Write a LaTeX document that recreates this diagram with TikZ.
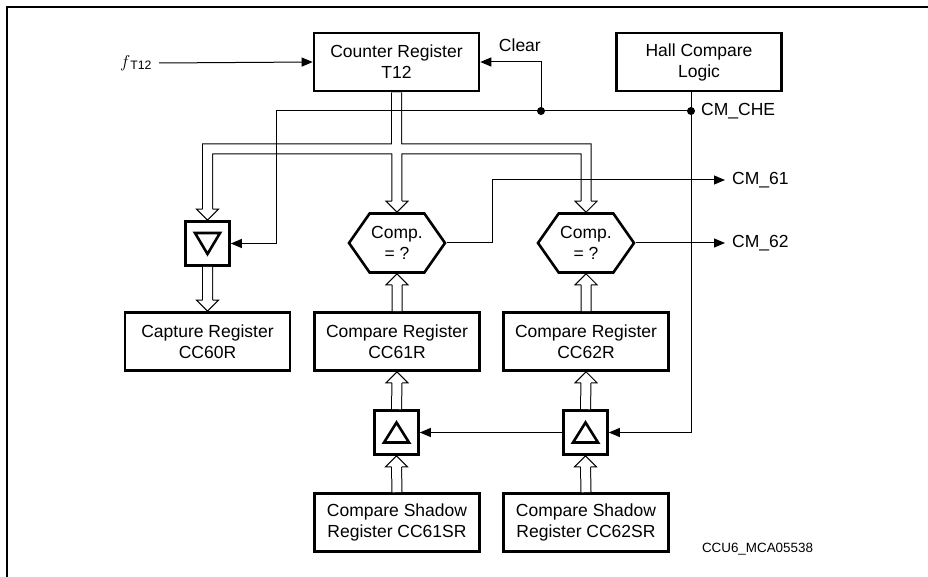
\documentclass[tikz,border=0pt]{standalone}
\usepackage{fontspec}
\setmainfont{Liberation Sans}
\usetikzlibrary{arrows.meta,shapes.symbols}

\begin{document}
\begin{tikzpicture}[
    x=1pt, y=-1pt,
    every node/.style={font=\fontsize{17.5}{21}\selectfont, align=center, inner sep=0pt},
    regbox/.style={draw, line width=2.6pt, minimum width=165pt, minimum height=58pt},
    trigbox/.style={draw, line width=2.6pt, minimum size=44pt},
    trig down/.style={trigbox, path picture={\draw[line width=2.6pt] ([shift={(-12.5,-10.5)}]path picture bounding box.center) -- ++(25,0) -- ++(-12.5,21) -- cycle;}},
    trig up/.style={trigbox, path picture={\draw[line width=2.6pt] ([shift={(-12.5,10)}]path picture bounding box.center) -- ++(25,0) -- ++(-12.5,-20) -- cycle;}},
    cmphex/.style={draw, line width=2.6pt, shape=signal, signal to=east and west, signal pointer angle=110, minimum width=96pt, minimum height=59pt},
    sig/.style={line width=1pt, -{Triangle[length=11pt,width=9pt]}},
    wire/.style={line width=1pt},
    dot/.style={circle, fill, minimum size=8pt},
    lbl/.style={anchor=west, inner xsep=7pt},
    bushead/.pic={
        \fill[white] (-11,-11) -- (0,0) -- (11,-11) -- cycle;
        \draw[line width=1pt] (-5,-11) -- (-11,-11) -- (0,0) -- (11,-11) -- (5,-11);
    }
]
\useasboundingbox (0,0) rectangle (928,577);
\draw[line width=2pt] (7,577) -- (7,7) -- (928,7);

\node[regbox] (t12) at (396.5,62) {Counter Register\\T12};
\node[regbox] (hall) at (699,62) {Hall Compare\\Logic};
\node[trig down] (cap) at (207.5,243.5) {};
\node[cmphex] (cmp1) at (397,243) {Comp.\\= ?};
\node[cmphex] (cmp2) at (586,243) {Comp.\\= ?};
\node[regbox] (cc60) at (207.5,341.5) {Capture Register\\CC60R};
\node[regbox] (cc61) at (397,341.5) {Compare Register\\CC61R};
\node[regbox] (cc62) at (586,341.5) {Compare Register\\CC62R};
\node[trig up] (trg1) at (396.5,432.5) {};
\node[trig up] (trg2) at (585.5,432.5) {};
\node[regbox] (sh61) at (397,522.5) {Compare Shadow\\Register CC61SR};
\node[regbox] (sh62) at (586,522.5) {Compare Shadow\\Register CC62SR};

\node (ft) at (136,63) {$f$\textsubscript{T12}};
\node[anchor=south east] (clr) at (541,52) {Clear};
\node[anchor=west] (che) at (701,111) {CM\_CHE};
\node[lbl] (cm61) at (725,180) {CM\_61};
\node[lbl] (cm62) at (725,243) {CM\_62};
\node[font=\fontsize{13.4}{16}\selectfont] (fig) at (757.5,549) {CCU6\_MCA05538};

\coordinate (busl) at (208,149);
\coordinate (busr) at (586,149);
\foreach \w/\c in {11/black, 9/white}
    \draw[line width=\w pt, \c]
        ([yshift=10pt]cap.north) -- (cap.north |- busl) -- (busr) -- ([yshift=10pt]cmp2.north)
        (t12.south) -- ([yshift=10pt]cmp1.north)
        (cap.south) -- ([yshift=10pt]cc60.north)
        (cc61.north) -- ([yshift=-10pt]cmp1.south)
        (cc62.north) -- ([yshift=-10pt]cmp2.south)
        (trg1.north) -- ([yshift=-10pt]cc61.south)
        (trg2.north) -- ([yshift=-10pt]cc62.south)
        (sh61.north) -- ([yshift=-10pt]trg1.south)
        (sh62.north) -- ([yshift=-10pt]trg2.south);
\foreach \n in {cap.north, cmp1.north, cmp2.north, cc60.north}
    \pic at (\n) {bushead};
\foreach \n in {cmp1.south, cmp2.south, cc61.south, cc62.south, trg1.south, trg2.south}
    \pic[rotate=180] at (\n) {bushead};

\node[dot] (dclr) at (541,111) {};
\node[dot] (dche) at (691,111) {};
\coordinate (capturn) at (276,111);
\coordinate (k61) at (492,180);

\draw[sig] ([xshift=7pt]ft.east) -- (t12.west);
\draw[wire] (hall.south -| dche) -- (dche.center) -- (capturn);
\draw[sig] (dclr.center) |- (t12.east);
\draw[sig] (capturn) |- (cap.east);
\draw[sig] (dche.center) |- (trg2.east);
\draw[sig] (trg2.west) -- (trg1.east);
\draw[sig] (cmp1.east) -| (k61) -- (cm61.west);
\draw[sig] (cmp2.east) -- (cm62.west);
\end{tikzpicture}
\end{document}
